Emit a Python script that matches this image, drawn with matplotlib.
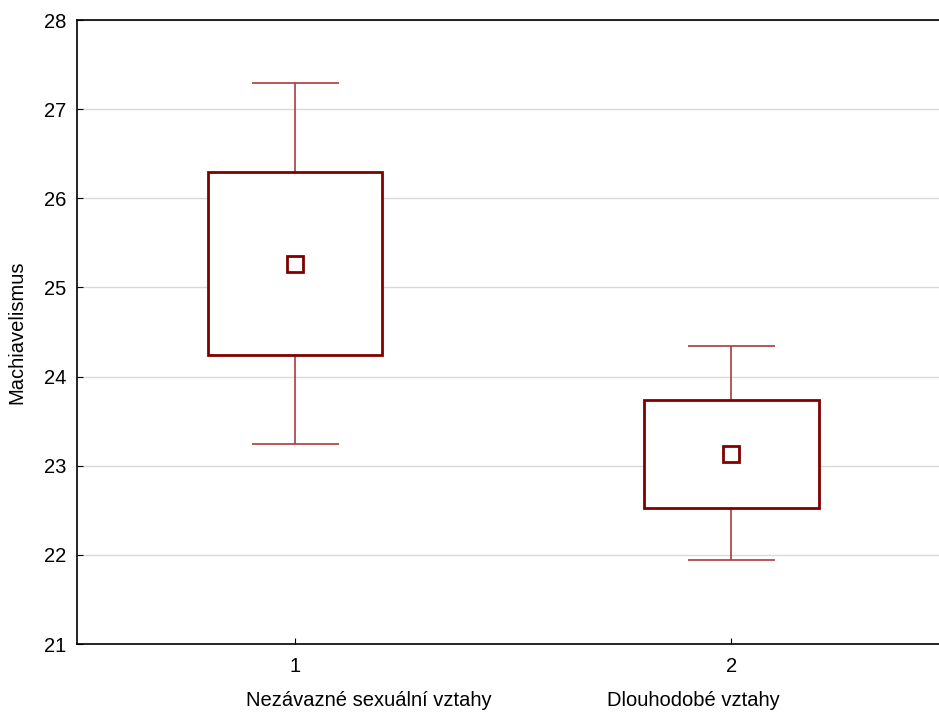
import matplotlib
matplotlib.use("Agg")
import matplotlib.pyplot as plt
from matplotlib.patches import Rectangle

plt.rcParams['font.family'] = ['Liberation Sans', 'DejaVu Sans']

# data
groups = [1, 2]
group_names = ['Nezávazné sexuální vztahy', 'Dlouhodobé vztahy']
means = [25.26, 23.13]
box_low = [24.24, 22.53]
box_high = [26.30, 23.74]
whisk_low = [23.24, 21.94]
whisk_high = [27.29, 24.34]

box_col = '#800000'
whisk_col = '#a83c3c'

fig = plt.figure(figsize=(9.39, 7.13), dpi=100)
W, H = 939, 713
ax = fig.add_axes([77 / W, (H - 644) / H, (949.5 - 77) / W, (644 - 20) / H])

bw = 0.2   # half width of box
cw = 0.1   # half width of whisker cap
for g, lo, hi, wl, wh, m in zip(groups, box_low, box_high, whisk_low, whisk_high, means):
    # whiskers
    ax.vlines(g, hi, wh, color=whisk_col, lw=1.2, zorder=2)
    ax.vlines(g, wl, lo, color=whisk_col, lw=1.2, zorder=2)
    ax.hlines([wl, wh], g - cw, g + cw, color=whisk_col, lw=1.2, zorder=2)
    # box
    ax.add_patch(Rectangle((g - bw, lo), 2 * bw, hi - lo, facecolor='white',
                           edgecolor=box_col, lw=2, zorder=3))
    # mean
    ax.plot(g, m, marker='s', ms=11, mfc='white', mec=box_col, mew=2, zorder=4)

ax.set_xlim(0.5, 2.5)
ax.set_ylim(21, 28)
ax.set_yticks(range(21, 29))
ax.set_xticks(groups)
ax.grid(axis='y', color='#d9d9d9', lw=1)
ax.set_axisbelow(True)
ax.tick_params(direction='in', length=4, labelsize=14.5, color='black')
ax.tick_params(axis='y', pad=8)
ax.tick_params(axis='x', pad=9)
for s in ['left', 'top', 'bottom']:
    ax.spines[s].set_linewidth(1.2)
ax.spines['right'].set_visible(False)
ax.set_ylabel('Machiavelismus', fontsize=14.5, labelpad=12)

# category names under the axis
fig.text(369 / W, 1 - 700 / H, group_names[0], ha='center', va='center', fontsize=14.5)
fig.text(693 / W, 1 - 700 / H, group_names[1], ha='center', va='center', fontsize=14.5)

fig.savefig('out.png', dpi=100)
